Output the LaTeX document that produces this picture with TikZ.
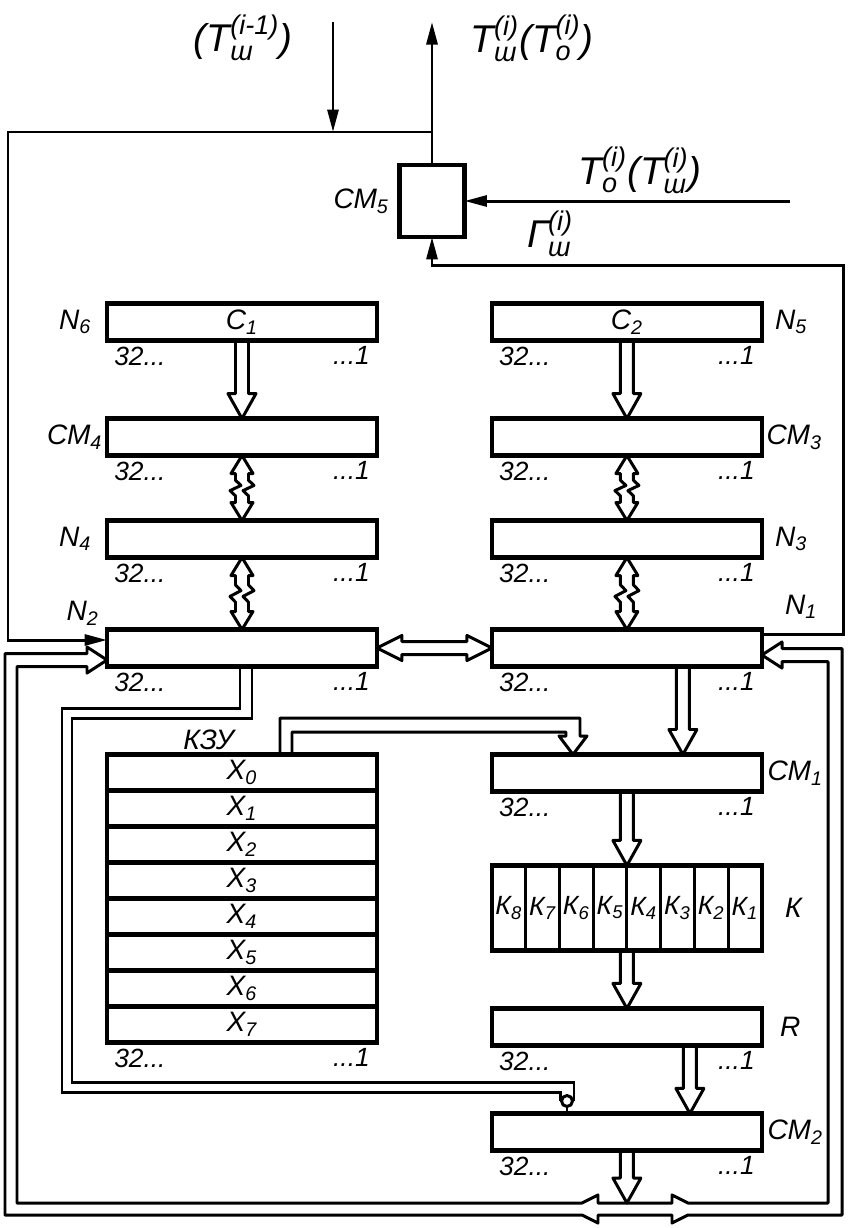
\documentclass[tikz,border=0pt]{standalone}
\usepackage{amsmath}
\usepackage{fontspec}
\setmainfont{Liberation Sans}
\usepackage{tikz}
\usetikzlibrary{arrows.meta, positioning, calc}

\newcommand{\regfont}{\fontsize{16}{18}\selectfont\itshape}
\newcommand{\bitfont}{\fontsize{15}{17}\selectfont\itshape}
\newcommand{\sigfont}{\fontsize{22}{24}\selectfont\itshape}
\newcommand{\idx}[3]{$\text{#1}^{\text{#2}}_{\text{#3}}$}
% half width of a bus, of its head, head length, squiggle offsets
\newcommand{\busw}{1.3mm}
\newcommand{\bushw}{2.6mm}
\newcommand{\busl}{5mm}
\newcommand{\busa}{2.4mm}
\newcommand{\busb}{0.2mm}

\tikzset{
  head/.code={\def\busl{#1}},
  hw/.code={\def\bushw{#1}},
  straight/.code={\def\busa{\busw}\def\busb{\busw}},
  bus/.style={head=5mm, hw=2.8mm, line join=round, to path={
    ($(\tikztostart)!\busw!90:(\tikztotarget)$)
    -- ($(\tikztotarget)!\busl!(\tikztostart)+(\tikztostart)!\busw!90:(\tikztotarget)-(\tikztostart)$)
    -- ($(\tikztotarget)!\busl!(\tikztostart)+(\tikztostart)!\bushw!90:(\tikztotarget)-(\tikztostart)$)
    -- (\tikztotarget)
    -- ($(\tikztotarget)!\busl!(\tikztostart)+(\tikztostart)!\bushw!-90:(\tikztotarget)-(\tikztostart)$)
    -- ($(\tikztotarget)!\busl!(\tikztostart)+(\tikztostart)!\busw!-90:(\tikztotarget)-(\tikztostart)$)
    -- ($(\tikztostart)!\busw!-90:(\tikztotarget)$)}},
  busboth/.style={head=3.6mm, hw=2.2mm, line join=round, to path={
    (\tikztostart)
    -- ($(\tikztostart)!\busl!(\tikztotarget)+(\tikztostart)!\bushw!90:(\tikztotarget)-(\tikztostart)$)
    -- ($(\tikztostart)!\busl!(\tikztotarget)+(\tikztostart)!\busw!90:(\tikztotarget)-(\tikztostart)$)
    -- ($(\tikztostart)!.38!(\tikztotarget)+(\tikztostart)!\busw!90:(\tikztotarget)-(\tikztostart)$)
    -- ($(\tikztostart)!.46!(\tikztotarget)+(\tikztostart)!\busa!90:(\tikztotarget)-(\tikztostart)$)
    -- ($(\tikztostart)!.54!(\tikztotarget)+(\tikztostart)!\busb!90:(\tikztotarget)-(\tikztostart)$)
    -- ($(\tikztostart)!.62!(\tikztotarget)+(\tikztostart)!\busw!90:(\tikztotarget)-(\tikztostart)$)
    -- ($(\tikztotarget)!\busl!(\tikztostart)+(\tikztostart)!\busw!90:(\tikztotarget)-(\tikztostart)$)
    -- ($(\tikztotarget)!\busl!(\tikztostart)+(\tikztostart)!\bushw!90:(\tikztotarget)-(\tikztostart)$)
    -- (\tikztotarget)
    -- ($(\tikztotarget)!\busl!(\tikztostart)+(\tikztostart)!\bushw!-90:(\tikztotarget)-(\tikztostart)$)
    -- ($(\tikztotarget)!\busl!(\tikztostart)+(\tikztostart)!\busw!-90:(\tikztotarget)-(\tikztostart)$)
    -- ($(\tikztostart)!.62!(\tikztotarget)+(\tikztostart)!\busw!-90:(\tikztotarget)-(\tikztostart)$)
    -- ($(\tikztostart)!.54!(\tikztotarget)+(\tikztostart)!\busa!-90:(\tikztotarget)-(\tikztostart)$)
    -- ($(\tikztostart)!.46!(\tikztotarget)+(\tikztostart)!\busb!-90:(\tikztotarget)-(\tikztostart)$)
    -- ($(\tikztostart)!.38!(\tikztotarget)+(\tikztostart)!\busw!-90:(\tikztotarget)-(\tikztostart)$)
    -- ($(\tikztostart)!\busl!(\tikztotarget)+(\tikztostart)!\busw!-90:(\tikztotarget)-(\tikztostart)$)
    -- ($(\tikztostart)!\busl!(\tikztotarget)+(\tikztostart)!\bushw!-90:(\tikztotarget)-(\tikztostart)$)
    -- cycle}}
}

\begin{document}
\begin{tikzpicture}[x=0.02cm, y=-0.02cm, line width=1.7pt,
    fwd/.style={-{Triangle[length=4.5mm,width=2.2mm]}},
    reg/.style={draw, line width=2.5pt, outer sep=0pt, inner sep=1pt,
                minimum width=54mm, minimum height=7.4mm, font=\regfont},
    lbl/.style={font=\regfont, inner sep=1pt},
    bits/.style={font=\bitfont, inner sep=1pt},
    sig/.style={font=\sigfont, inner sep=1pt}]
  \useasboundingbox (0,0) rectangle (849,1228);

  % registers
  \node[reg] (n2) at (242,648) {};
  \node[reg, above=14.4mm of n2] (n4) {};
  \node[reg, above=13mm of n4] (cm4) {};
  \node[reg, above=15.6mm of cm4] (n6) {C\textsubscript{1}};
  \node[reg, right=23mm of n2] (n1) {};
  \node[reg, above=14.4mm of n1] (n3) {};
  \node[reg, above=13mm of n3] (cm3) {};
  \node[reg, above=15.6mm of cm3] (n5) {C\textsubscript{2}};
  \node[reg, below=17.6mm of n1] (cm1) {};
  \node[reg, below=14.8mm of cm1, minimum height=17mm] (k) {};
  \node[reg, below=11.6mm of k] (r) {};
  \node[reg, below=13.6mm of r] (cm2) {};
  \node[reg, below=17.6mm of n2, minimum height=57.6mm] (kzu) {};
  \node[reg, minimum width=13mm, minimum height=14.4mm] (cm5) at (432,201) {};

  % key memory rows and s-boxes
  \foreach \i in {1,...,7}
    \draw[line width=2.5pt] ($(kzu.north west)!\i/8!(kzu.south west)$) -- ($(kzu.north east)!\i/8!(kzu.south east)$);
  \foreach \i in {0,...,7}
    \node[lbl] (x\i) at ($(kzu.north)!{(\i+0.5)/8}!(kzu.south)$) {X\textsubscript{\i}};
  \foreach \i in {1,...,7}
    \draw ($(k.north west)!\i/8!(k.north east)$) -- ($(k.south west)!\i/8!(k.south east)$);
  \foreach \j [count=\c] in {8,7,...,1}
    \node[bits] (k\j) at ($(k.west)!{(\c-0.5)/8}!(k.east)$) {К\textsubscript{\j}};

  % names
  \node[lbl, left=2.5mm of n6] (n6-name) {N\textsubscript{6}};
  \node[lbl, left=0.3mm of cm4] (cm4-name) {СМ\textsubscript{4}};
  \node[lbl, left=2.5mm of n4] (n4-name) {N\textsubscript{4}};
  \node[lbl, above left=0.2mm and 1mm of n2] (n2-name) {N\textsubscript{2}};
  \node[lbl, right=2mm of n5] (n5-name) {N\textsubscript{5}};
  \node[lbl, right=0.3mm of cm3] (cm3-name) {СМ\textsubscript{3}};
  \node[lbl, right=2mm of n3] (n3-name) {N\textsubscript{3}};
  \node[lbl, above right=1.5mm and 4mm of n1] (n1-name) {N\textsubscript{1}};
  \node[lbl, right=0.5mm of cm1] (cm1-name) {СМ\textsubscript{1}};
  \node[lbl, right=4mm of k] (k-name) {К};
  \node[lbl, right=3mm of r] (r-name) {R};
  \node[lbl, right=0.5mm of cm2] (cm2-name) {СМ\textsubscript{2}};
  \node[lbl, left=1.5mm of cm5] (cm5-name) {СМ\textsubscript{5}};
  \node[lbl, above right=0.3mm and 14.6mm of kzu.north west] (kzu-name) {КЗУ};
  \foreach \b in {n6,cm4,n4,n2,kzu,n5,cm3,n3,n1,cm1,r,cm2} {
    \node[bits, below right=0.6mm and 0.8mm of \b.south west] (\b-lo) {32...};
    \node[bits, below left=0.6mm and 0.8mm of \b.south east] (\b-hi) {...1};
  }

  % buses between registers
  \draw[bus] (n6.south) to (cm4.north);
  \draw[busboth] (cm4.south) to (n4.north);
  \draw[busboth] (n4.south) to (n2.north);
  \draw[bus] (n5.south) to (cm3.north);
  \draw[busboth] (cm3.south) to (n3.north);
  \draw[busboth] (n3.south) to (n1.north);
  \draw[busboth, straight, head=5mm, hw=2.5mm] (n2.east) to (n1.west);
  \draw[bus] ($(n1.south)+(56,0)$) to ($(cm1.north)+(56,0)$);
  \draw[bus] (cm1.south) to (k.north);
  \draw[bus] (k.south) to (r.north);
  \draw[bus] ($(r.south)+(63,0)$) to ($(cm2.north)+(63,0)$);
  \draw[bus] (cm2.south) to (cm2.south |- 0,1203);

  % feedback bus from CM2 to N2 and N1
  \draw[line join=round] ($(n2.west)+(0,12)$) -- (87,647) -- (87,653.5) -- (5,653.5) -- (5,1215)
    -- (582,1215) -- (598,1223) -- (598,1215) -- (672,1215) -- (672,1223) -- (688,1215)
    -- (842,1215) -- (842,648.5) -- (782,648.5) -- (782,642) -- ($(n1.east)+(0,7)$)
    -- (782,668) -- (782,661.5) -- (828,661.5) -- (828,1203) -- (688,1203) -- (672,1195)
    -- (672,1203) -- (598,1203) -- (598,1195) -- (582,1203) -- (17,1203) -- (17,666.5)
    -- (87,666.5) -- (87,673) -- cycle;

  % N2 to CM2
  \node[circle, draw, minimum size=2.2mm, inner sep=0pt] (inv) at (567,1101) {};
  \draw (240,0 |- n2.south) -- (240,708) -- (62,708) -- (62,1092) -- (inv.west |- 0,1092) -- (inv.west);
  \draw (252,0 |- n2.south) -- (252,718) -- (72,718) -- (72,1082) -- (inv.east |- 0,1082) -- (inv.east);
  \draw (inv.south) -- (inv |- cm2.north);

  % KZU to CM1
  \draw[line join=round] (280,0 |- kzu.north) -- (280,718) -- (580,718) -- (580,736) -- (587,736)
    -- (573,0 |- cm1.north) -- (559,736) -- (566,736) -- (566,732) -- (292,732) -- (292,0 |- kzu.north);

  % CM5 and single lines
  \coordinate (tin) at (333,22);
  \coordinate (tout) at (432,22);
  \coordinate (rin) at (790,201);
  \draw[fwd] (tin) -- (tin |- 0,132);
  \draw[fwd] (cm5.north) -- (tout);
  \draw[fwd] (rin) -- (cm5.east);
  \draw[fwd] (cm5.north |- 0,132) -| (8,640) -- (n2.west |- 8,640);
  \draw[fwd] ($(n1.east)+(0,-14)$) -| (843,265) -| (cm5.south);

  \node[sig] (tin-name) at (243,38) {(\idx{Т}{(i-1)}{ш})};
  \node[sig] (tout-name) at (532,38) {\idx{Т}{(i)}{ш}(\idx{Т}{(i)}{о})};
  \node[sig] (rin-name) at (640,170) {\idx{Т}{(i)}{о}(\idx{Т}{(i)}{ш})};
  \node[sig] (g-name) at (550,234) {\idx{Г}{(i)}{ш}};
\end{tikzpicture}
\end{document}
